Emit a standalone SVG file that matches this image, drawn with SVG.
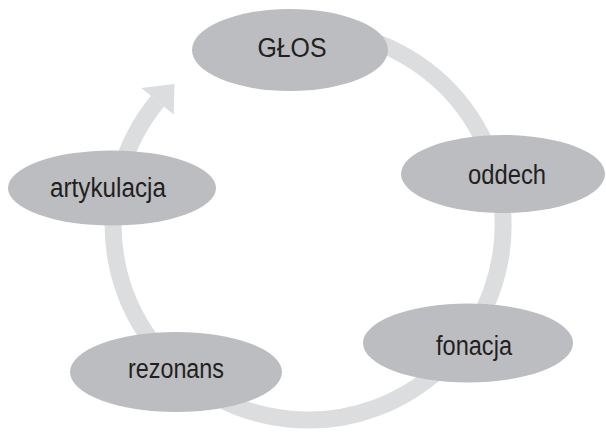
<svg xmlns="http://www.w3.org/2000/svg" width="606" height="433" viewBox="0 0 606 433">
  <style>
    .node ellipse { fill: #bcbdc0; }
    .node text { font-family: "Liberation Sans", Arial, sans-serif; font-size: 27px; fill: #231f20; text-anchor: middle; }
    .ring { fill: none; stroke: #dcdddf; stroke-width: 17; }
    .head { fill: #dcdddf; }
  </style>
  <rect width="606" height="433" fill="#ffffff"/>

  <!-- circular cycle arrow running clockwise behind the nodes -->
  <g id="connectors">
    <path class="ring" d="M 341.9 33 A 195 195 0 1 1 157.5 101.2"/>
    <polygon class="head" points="141.3,87.9 174.5,84 173.7,114.5"/>
  </g>

  <!-- labels use a condensed setting of the sans face -->
  <g id="node-glos" class="node">
    <ellipse cx="290" cy="50" rx="98" ry="41"/>
    <text x="292" y="57" textLength="69" lengthAdjust="spacingAndGlyphs">GŁOS</text>
  </g>
  <g id="node-oddech" class="node">
    <ellipse cx="503" cy="174" rx="102" ry="39"/>
    <text x="507" y="184" textLength="78" lengthAdjust="spacingAndGlyphs">oddech</text>
  </g>
  <g id="node-fonacja" class="node">
    <ellipse cx="468" cy="343" rx="105" ry="39.5"/>
    <text x="474" y="355" textLength="76" lengthAdjust="spacingAndGlyphs">fonacja</text>
  </g>
  <g id="node-rezonans" class="node">
    <ellipse cx="176" cy="372" rx="106" ry="40"/>
    <text x="176" y="378" textLength="96" lengthAdjust="spacingAndGlyphs">rezonans</text>
  </g>
  <g id="node-artykulacja" class="node">
    <ellipse cx="112" cy="188" rx="104" ry="37.5"/>
    <text x="108" y="197" textLength="116" lengthAdjust="spacingAndGlyphs">artykulacja</text>
  </g>
</svg>
